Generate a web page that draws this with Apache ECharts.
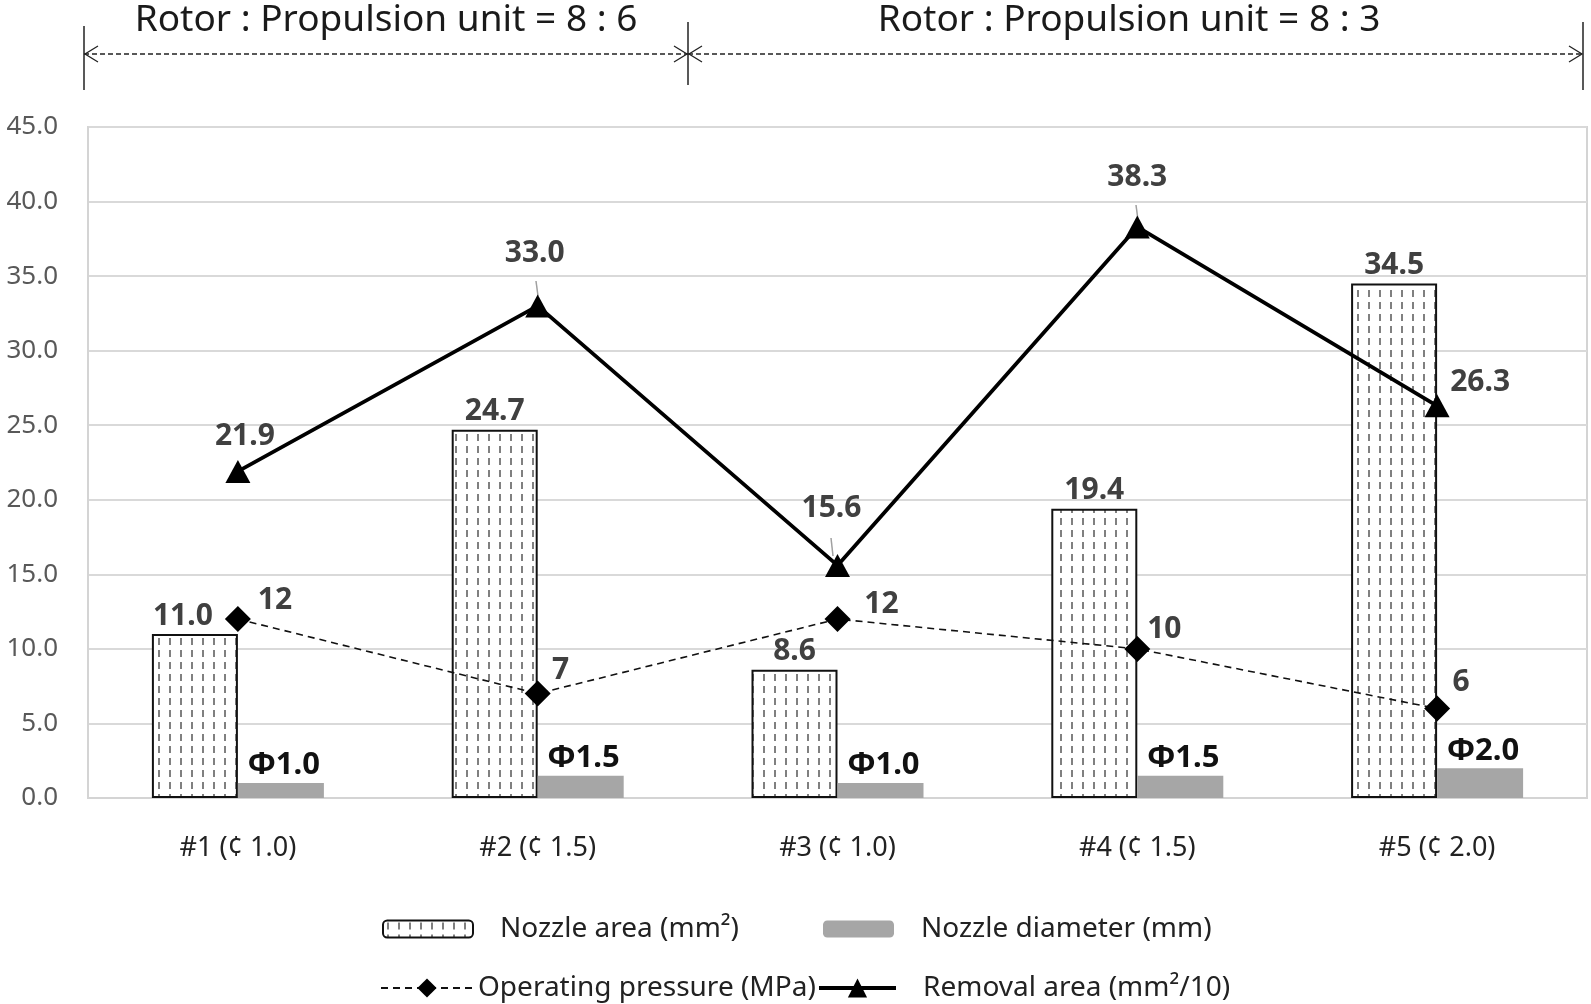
<!DOCTYPE html>
<html>
<head>
<meta charset="utf-8">
<title>Nozzle chart</title>
<script src="https://cdn.jsdelivr.net/npm/echarts@6/dist/echarts.min.js"></script>
<style>
    html, body { margin: 0; padding: 0; background: #fff; }
    #main { width: 1591px; height: 1004px; }
</style>
</head>
<body>
<div id="main"></div>
<script>
var categories = ["#1 (\u00a2 1.0)", "#2 (\u00a2 1.5)", "#3 (\u00a2 1.0)", "#4 (\u00a2 1.5)", "#5 (\u00a2 2.0)"];
var nozzleArea = [11.0, 24.7, 8.6, 19.4, 34.5];      // mm2
var nozzleDiameter = [1.0, 1.5, 1.0, 1.5, 2.0];     // mm
var operatingPressure = [12, 7, 12, 10, 6];         // MPa
var removalArea = [21.9, 33.0, 15.6, 38.3, 26.3];   // mm2/10
var yTicks = [0, 45, 5]; // min, max, step

var FONT = "'Noto Sans', 'DejaVu Sans', sans-serif";

// label offsets (px) relative to the point centre
var removalOffsets = [[7, -35], [-3, -52], [-6, -57], [0, -49], [43, -23]];
var pressureOffsets = [[37, -19], [23, -23], [44, -15], [27, -19], [24, -26]];

// vertical dashed fill of the nozzle area bars
function makePattern() {
    var c = document.createElement("canvas");
    c.width = 11;
    c.height = 12;
    var ctx = c.getContext("2d");
    ctx.fillStyle = "#ffffff";
    ctx.fillRect(0, 0, 11, 12);
    ctx.fillStyle = "#808080";
    ctx.fillRect(4, 2, 2, 7);
    return c;
}

var chart = echarts.init(document.getElementById("main"));

var labelStyle = {
    fontFamily: FONT,
    fontWeight: "bold",
    fontSize: 30,
    color: "#404040"
};

function legendAt(name, left, top, w, h, pad, lineW) {
    var lg = {
        data: [name],
        left: left,
        top: top,
        itemWidth: w,
        itemHeight: h,
        selectedMode: false,
        textStyle: {
            fontFamily: FONT,
            fontSize: 28,
            color: "#222",
            padding: [0, 0, 0, pad]
        }
    };
    if (lineW) lg.lineStyle = { width: lineW };
    return lg;
}

function arrowLine(x1, x2, y) {
    return [
        { type: "line", shape: { x1: x1, y1: y, x2: x2, y2: y },
          style: { stroke: "#222", lineWidth: 1.3, lineDash: [5, 3] } },
        { type: "polyline", shape: { points: [[x1 + 14, y - 8], [x1 + 1, y], [x1 + 14, y + 8]] },
          style: { stroke: "#222", lineWidth: 1.3, fill: null } },
        { type: "polyline", shape: { points: [[x2 - 14, y - 8], [x2 - 1, y], [x2 - 14, y + 8]] },
          style: { stroke: "#222", lineWidth: 1.3, fill: null } }
    ];
}

// little grey leader lines of the moved labels
function leader(x, y1, y2) {
    return { type: "line", shape: { x1: x, y1: y1, x2: x + 2, y2: y2 },
             style: { stroke: "#a0a0a0", lineWidth: 1.5 } };
}

var graphics = [
    { type: "text", x: 386, y: 20,
      style: { text: "Rotor : Propulsion unit = 8 : 6", fontFamily: FONT, fontSize: 37, fill: "#1a1a1a", align: "center", verticalAlign: "middle" } },
    { type: "text", x: 1129, y: 20,
      style: { text: "Rotor : Propulsion unit = 8 : 3", fontFamily: FONT, fontSize: 37, fill: "#1a1a1a", align: "center", verticalAlign: "middle" } },
    { type: "line", shape: { x1: 84, y1: 26, x2: 84, y2: 90 }, style: { stroke: "#222", lineWidth: 1.5 } },
    { type: "line", shape: { x1: 688, y1: 22, x2: 688, y2: 85 }, style: { stroke: "#222", lineWidth: 1.5 } },
    { type: "line", shape: { x1: 1583, y1: 22, x2: 1583, y2: 90 }, style: { stroke: "#222", lineWidth: 1.5 } },
    leader(536, 281, 296),
    leader(831, 538, 556),
    leader(1136, 205, 220)
].concat(arrowLine(84, 688, 54)).concat(arrowLine(688, 1583, 54));

var option = {
    backgroundColor: "#ffffff",
    animation: false,
    textStyle: { fontFamily: FONT },
    grid: {
        left: 88,
        right: 4,
        top: 127,
        bottom: 206,
        show: true,
        borderColor: "#d4d4d4",
        borderWidth: 2
    },
    legend: [
        legendAt("Nozzle area (mm\u00b2)", 377, 910, 90, 17, 22),
        legendAt("Nozzle diameter (mm)", 818, 910, 71, 17, 22),
        legendAt("Operating pressure (MPa)", 375, 969, 92, 24, 0),
        legendAt("Removal area (mm\u00b2/10)", 812, 969, 77, 24, 22, 4)
    ],
    xAxis: {
        type: "category",
        data: categories,
        boundaryGap: true,
        axisTick: { show: false },
        axisLine: { lineStyle: { color: "#d4d4d4", width: 2 } },
        axisLabel: {
            margin: 37,
            fontFamily: FONT,
            fontSize: 27,
            color: "#222"
        }
    },
    yAxis: {
        type: "value",
        min: yTicks[0],
        max: yTicks[1],
        interval: yTicks[2],
        axisLine: { show: true, lineStyle: { color: "#d4d4d4", width: 2 } },
        axisTick: { show: false },
        splitLine: { lineStyle: { color: "#d9d9d9", width: 2 } },
        axisLabel: {
            margin: 30,
            fontFamily: FONT,
            fontSize: 26,
            color: "#595959",
            formatter: function(v) { return v.toFixed(1); }
        }
    },
    graphic: graphics,
    series: [
        {
            name: "Nozzle area (mm\u00b2)",
            type: "bar",
            barWidth: 86,
            barGap: "0%",
            z: 2,
            itemStyle: {
                color: { image: makePattern(), repeat: "repeat" },
                borderColor: "#111",
                borderWidth: 2
            },
            label: Object.assign({
                show: true,
                position: "top",
                distance: 3,
                formatter: function(p) { return p.value.toFixed(1); }
            }, labelStyle),
            data: nozzleArea.map(function(v, i) {
                return i === 0 ? { value: v, label: { offset: [-12, 0] } } : v;
            })
        },
        {
            name: "Nozzle diameter (mm)",
            type: "bar",
            barWidth: 86,
            barGap: "0%",
            z: 2,
            itemStyle: { color: "#a6a6a6" },
            label: {
                show: true,
                position: "top",
                distance: 2,
                offset: [3, 0],
                fontFamily: FONT,
                fontWeight: "bold",
                fontSize: 31,
                color: "#111",
                formatter: function(p) { return "\u03a6" + p.value.toFixed(1); }
            },
            data: nozzleDiameter
        },
        {
            name: "Operating pressure (MPa)",
            type: "line",
            z: 4,
            symbol: "diamond",
            symbolSize: [26, 26],
            lineStyle: { color: "#111", width: 1.6, type: [7, 5] },
            itemStyle: { color: "#000" },
            label: Object.assign({
                show: true,
                position: "inside",
                align: "center",
                verticalAlign: "middle"
            }, labelStyle),
            data: operatingPressure.map(function(v, i) {
                return { value: v, label: { offset: pressureOffsets[i] } };
            })
        },
        {
            name: "Removal area (mm\u00b2/10)",
            type: "line",
            z: 5,
            symbol: "triangle",
            symbolSize: [25, 23],
            lineStyle: { color: "#000", width: 3.8 },
            itemStyle: { color: "#000" },
            label: Object.assign({
                show: true,
                position: "inside",
                align: "center",
                verticalAlign: "middle",
                formatter: function(p) { return p.value.toFixed(1); }
            }, labelStyle),
            data: removalArea.map(function(v, i) {
                return { value: v, label: { offset: removalOffsets[i] } };
            })
        }
    ]
};

chart.setOption(option);
</script>
</body>
</html>
